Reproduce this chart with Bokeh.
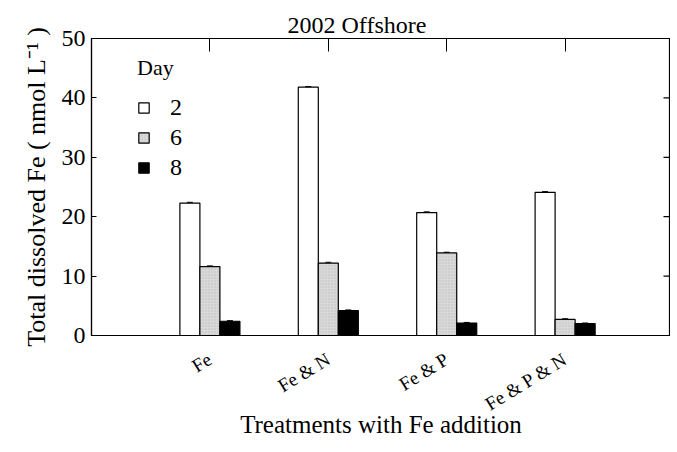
from bokeh.plotting import figure
from bokeh.models import (Range1d, LinearAxis, FixedTicker, Legend, LegendItem,
                          Whisker, ColumnDataSource, TeeHead, CustomJSTickFormatter)
from bokeh.embed import file_html
from bokeh.resources import INLINE

# ---- data ----
treatments = ["Fe", "Fe & N", "Fe & P", "Fe & P & N"]
days = ["2", "6", "8"]
day2 = [22.3, 41.8, 20.7, 24.1]
day6 = [11.6, 12.2, 13.9, 2.7]
day8 = [2.4, 4.2, 2.1, 2.0]
err2 = [0.12, 0.12, 0.12, 0.12]
err6 = [0.12, 0.12, 0.12, 0.12]
err8 = [0.10, 0.10, 0.10, 0.10]
y_ticks = [0, 10, 20, 30, 40, 50]

FONT = "Liberation Serif"

x_base = [i + 1 for i in range(len(treatments))]
bar_w = 0.169
offsets = [-bar_w, 0.0, bar_w]
series = [day2, day6, day8]
errors = [err2, err6, err8]
fills = ["#ffffff", "#d9d9d9", "#000000"]

x_rng = Range1d(0, 4.89)
p = figure(width=670, height=444,
           x_range=x_rng, y_range=Range1d(0, 50),
           output_backend="svg", toolbar_location=None,
           min_border_left=91, min_border_right=0,
           min_border_top=38, min_border_bottom=109)

p.background_fill_color = "white"
p.border_fill_color = "white"
p.outline_line_color = "black"
p.outline_line_width = 1.2
p.xgrid.grid_line_color = None
p.ygrid.grid_line_color = None

renderers = []
for vals, errs, off, col in zip(series, errors, offsets, fills):
    xs = [b + off for b in x_base]
    src = ColumnDataSource(dict(x=xs, top=vals,
                                upper=[v + e for v, e in zip(vals, errs)],
                                lower=[v - e for v, e in zip(vals, errs)]))
    kw = {}
    if col == "#d9d9d9":
        kw = dict(hatch_pattern="dot", hatch_scale=3, hatch_color="#b5b5b5",
                  hatch_weight=1, hatch_alpha=0.7)
    r = p.vbar(x="x", top="top", bottom=0, width=bar_w, source=src,
               fill_color=col, line_color="black", line_width=1.2, **kw)
    renderers.append(r)
    w = Whisker(base="x", upper="upper", lower="lower", source=src,
                line_color="black", line_width=1,
                upper_head=TeeHead(size=6, line_color="black", line_width=1),
                lower_head=TeeHead(size=6, line_color="black", line_width=1))
    p.add_layout(w)

# right-edge inward ticks (frame-clipped dashes at the right border)
p.scatter(x=[x_rng.end] * len(y_ticks), y=y_ticks, marker="dash", size=14,
          line_color="black", line_width=1.2)

# x axis (bottom)
p.xaxis.ticker = FixedTicker(ticks=x_base)
p.xaxis.major_label_overrides = {b: t for b, t in zip(x_base, treatments)}
p.xaxis.major_label_orientation = 0.55
p.xaxis.major_tick_in = 0
p.xaxis.major_tick_out = 0
p.xaxis.minor_tick_in = 0
p.xaxis.minor_tick_out = 0
p.xaxis.minor_tick_line_color = None
p.xaxis.axis_line_color = "black"
p.xaxis.axis_line_width = 1.2
p.xaxis.major_label_text_font = FONT
p.xaxis.major_label_text_font_size = "19px"
p.xaxis.major_label_text_color = "black"
p.xaxis.major_label_standoff = 22
p.xaxis.axis_label = "Treatments with Fe addition"
p.xaxis.axis_label_text_font = FONT
p.xaxis.axis_label_text_font_size = "25px"
p.xaxis.axis_label_text_font_style = "normal"
p.xaxis.axis_label_text_color = "black"
p.xaxis.axis_label_standoff = -15

# y axis (left)
p.yaxis.ticker = FixedTicker(ticks=y_ticks)
p.yaxis.major_tick_in = 5
p.yaxis.major_tick_out = 0
p.yaxis.minor_tick_in = 0
p.yaxis.minor_tick_out = 0
p.yaxis.minor_tick_line_color = None
p.yaxis.axis_line_color = "black"
p.yaxis.axis_line_width = 1.2
p.yaxis.major_label_text_font = FONT
p.yaxis.major_label_text_font_size = "24px"
p.yaxis.major_label_text_color = "black"
p.yaxis.major_label_standoff = 6
p.yaxis.axis_label = "Total dissolved Fe ( nmol L\u207b\u00b9 )"
p.yaxis.axis_label_text_font = FONT
p.yaxis.axis_label_text_font_size = "26px"
p.yaxis.axis_label_text_font_style = "normal"
p.yaxis.axis_label_text_color = "black"
p.yaxis.axis_label_standoff = 8

# top axis: inward ticks at group centres
ax_t = LinearAxis(ticker=FixedTicker(ticks=x_base), major_tick_in=13, major_tick_out=0,
                  minor_tick_in=0, minor_tick_out=0,
                  minor_tick_line_color=None, formatter=CustomJSTickFormatter(code="return ''"),
                  major_label_standoff=0, axis_line_color="black", axis_line_width=1.2)
p.add_layout(ax_t, "above")

# title
p.title.text = "2002 Offshore"
p.title.text_font = FONT
p.title.text_font_size = "24px"
p.title.text_font_style = "normal"
p.title.text_color = "black"
p.title.align = "left"
p.title.offset = 196
p.title.standoff = 2

# legend
items = [LegendItem(label=d, renderers=[r]) for d, r in zip(days, renderers)]
legend = Legend(items=items, location=(46, 154), title="Day",
                title_text_font=FONT, title_text_font_size="22px",
                title_text_font_style="normal", title_text_color="black",
                title_standoff=13,
                label_text_font=FONT, label_text_font_size="24px",
                label_text_color="black",
                glyph_width=13, glyph_height=13, label_standoff=20,
                label_height=24, spacing=3, padding=0, margin=0,
                border_line_color=None, background_fill_alpha=0)
p.add_layout(legend)

open("out.html", "w").write(file_html(p, INLINE))
